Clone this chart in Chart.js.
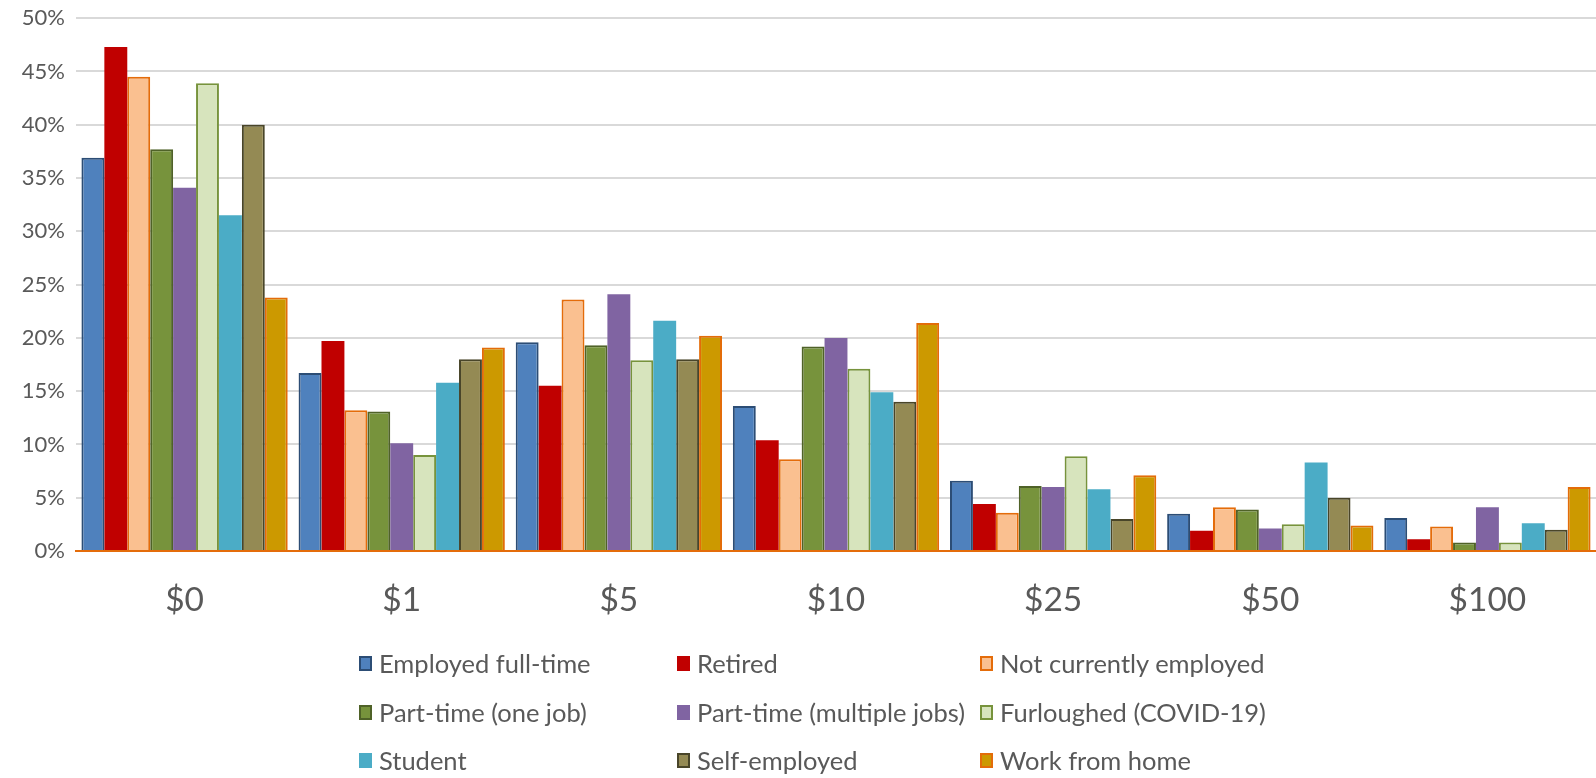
<!DOCTYPE html>
<html>
<head>
<meta charset="utf-8">
<script src="https://cdn.jsdelivr.net/npm/chart.js@4.4.1/dist/chart.umd.min.js"></script>
<style>
  html,body{margin:0;padding:0;background:#fff;}
  #wrap{position:relative;width:1596px;height:778px;overflow:hidden;}
  #chart-box{position:absolute;left:0;top:-6px;width:1596px;height:637px;}
  #legend{position:absolute;left:0;top:0;width:1596px;height:778px;pointer-events:none;}
  .lg-item{position:absolute;display:flex;align-items:center;font-family:Lato,"Open Sans",sans-serif;font-size:25.5px;color:#595959;white-space:nowrap;transform:translateY(-50%);}
  .lg-box{width:13px;height:15px;box-sizing:border-box;margin-right:7px;}
</style>
</head>
<body>
<div id="wrap">
  <div id="chart-box"><canvas id="c"></canvas></div>
  <div id="legend"></div>
</div>
<script>
// ---------- Data (percent of respondents)
const categories = ['$0','$1','$5','$10','$25','$50','$100'];
const employedFullTime   = [36.9, 16.7, 19.6, 13.6, 6.6, 3.5, 3.1];
const retired            = [47.3, 19.7, 15.5, 10.4, 4.4, 1.9, 1.1];
const notEmployed        = [44.5, 13.2, 23.6,  8.6, 3.6, 4.1, 2.3];
const partTimeOne        = [37.7, 13.1, 19.3, 19.2, 6.1, 3.9, 0.8];
const partTimeMultiple   = [34.1, 10.1, 24.1, 20.0, 6.0, 2.1, 4.1];
const furloughed         = [43.9,  9.0, 17.9, 17.1, 8.9, 2.5, 0.8];
const student            = [31.5, 15.8, 21.6, 14.9, 5.8, 8.3, 2.6];
const selfEmployed       = [40.0, 18.0, 18.0, 14.0, 3.0, 5.0, 2.0];
const workFromHome       = [23.8, 19.1, 20.2, 21.4, 7.1, 2.4, 6.0];
const yTicks = [0,5,10,15,20,25,30,35,40,45,50];

// ---------- Series styling
const series = [
  {label:'Employed full-time',        data:employedFullTime, fill:'#4F81BD', line:'#2C4D75', bw:2},
  {label:'Retired',                   data:retired,          fill:'#C00000', line:'#C00000', bw:0},
  {label:'Not currently employed',    data:notEmployed,      fill:'#FAC090', line:'#E46C0A', bw:2},
  {label:'Part-time (one job)',       data:partTimeOne,      fill:'#77933C', line:'#4F6228', bw:2},
  {label:'Part-time (multiple jobs)', data:partTimeMultiple, fill:'#8064A2', line:'#8064A2', bw:0},
  {label:'Furloughed (COVID-19)',     data:furloughed,       fill:'#D7E4BD', line:'#77933C', bw:2},
  {label:'Student',                   data:student,          fill:'#4BACC6', line:'#4BACC6', bw:0},
  {label:'Self-employed',             data:selfEmployed,     fill:'#948A54', line:'#494529', bw:2},
  {label:'Work from home',            data:workFromHome,     fill:'#CC9900', line:'#E36C09', bw:2}
];

const fontFam = 'Lato, "Open Sans", sans-serif';

const chart = new Chart(document.getElementById('c').getContext('2d'), {
  type:'bar',
  data:{
    labels:categories,
    datasets:series.map(s=>({label:s.label,data:s.data,backgroundColor:s.fill,borderColor:s.line,borderWidth:s.bw,borderSkipped:'bottom',barPercentage:1,categoryPercentage:0.95}))
  },
  options:{
    responsive:true, maintainAspectRatio:false, animation:false,
    layout:{padding:{top:0,right:0,left:0,bottom:0}},
    plugins:{legend:{display:false}, tooltip:{enabled:false}},
    scales:{
      x:{
        grid:{display:false, drawTicks:false},
        border:{display:true, color:'#E46C0A', width:2},
        ticks:{color:'#595959', font:{family:fontFam, size:33.5}, padding:29},
        afterFit:s=>{ s.height = 80; }
      },
      y:{
        min:0, max:50,
        afterBuildTicks:s=>{ s.ticks = yTicks.map(v=>({value:v})); },
        grid:{color:'#D9D9D9', lineWidth:2, drawTicks:false},
        border:{display:false},
        ticks:{color:'#595959', font:{family:fontFam, size:22}, padding:11, callback:v=>v+'%'},
        afterFit:s=>{ s.width = 76; }
      }
    }
  }
});

// ---------- Legend (3 columns, 3 rows)
const legendCols = [359, 677, 980];
const legendRows = [663, 712, 760];
const legendEl = document.getElementById('legend');
series.forEach((s,i)=>{
  const el=document.createElement('div'); el.className='lg-item';
  el.style.left = legendCols[i%3]+'px';
  el.style.top = legendRows[Math.floor(i/3)]+'px';
  const border = s.bw ? `border:2px solid ${s.line};` : '';
  el.innerHTML = `<span class="lg-box" style="background:${s.fill};${border}"></span><span>${s.label}</span>`;
  legendEl.appendChild(el);
});
</script>
</body>
</html>
